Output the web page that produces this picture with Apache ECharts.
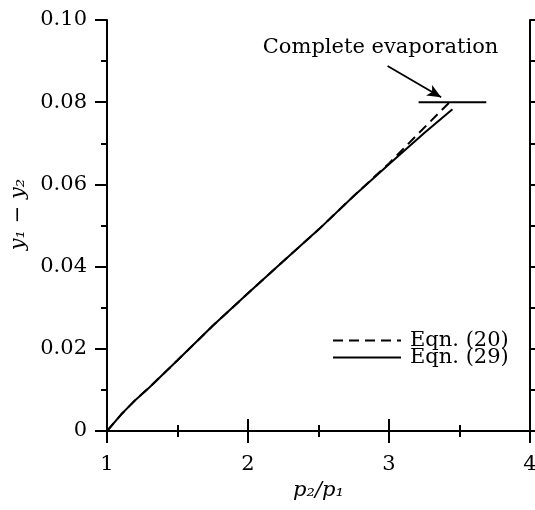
<!DOCTYPE html>
<html>
<head>
<meta charset="utf-8">
<script src="https://cdn.jsdelivr.net/npm/echarts@6/dist/echarts.min.js"></script>
<style>html,body{margin:0;padding:0;background:#fff;}#c{width:535px;height:510px;}</style>
</head>
<body>
<div id="c"></div>
<script>
// Data
const xTicks = [1, 2, 3, 4];
const yTicks = [0, 0.02, 0.04, 0.06, 0.08, 0.10];
const eqn29X = [1, 1.1, 1.2, 1.3, 1.5, 1.75, 2.0, 2.25, 2.5, 2.75, 3.0, 3.25, 3.45];
const eqn29Y = [0, 0.0040, 0.0075, 0.0106, 0.0172, 0.0256, 0.0335, 0.0413, 0.0490, 0.0572, 0.0649, 0.0725, 0.0783];
const eqn20X = [1, 1.1, 1.2, 1.3, 1.5, 1.75, 2.0, 2.25, 2.5, 2.75, 3.0, 3.2, 3.43];
const eqn20Y = [0, 0.0040, 0.0075, 0.0106, 0.0172, 0.0256, 0.0335, 0.0413, 0.0490, 0.0572, 0.0651, 0.0721, 0.0800];
const evapLineX = [3.21, 3.69];
const evapLineY = [0.080, 0.080];
const arrowFrom = [2.99, 0.0888];
const arrowTo = [3.37, 0.0812];
const annotationPos = [2.94, 0.0934];
const annotationText = 'Complete evaporation';
const seriesNames = ['Eqn. (20)', 'Eqn. (29)'];

const FONT = '"DejaVu Serif", "Liberation Serif", serif';
const FS = 21;
const zip = (xs, ys) => xs.map((x, i) => [x, ys[i]]);

const axisCommon = {
  type: 'value',
  axisLine: { show: true, lineStyle: { color: '#000', width: 2 } },
  axisTick: { show: true, inside: false, length: 12, lineStyle: { color: '#000', width: 2 } },
  minorTick: { show: true, splitNumber: 2, length: 6, lineStyle: { color: '#000', width: 2 } },
  splitLine: { show: false },
  minorSplitLine: { show: false }
};

const chart = echarts.init(document.getElementById('c'), null, { renderer: 'canvas' });
chart.setOption({
  animation: false,
  backgroundColor: '#fff',
  grid: { left: 107, right: 5, top: 20, bottom: 79, containLabel: false, outerBoundsMode: 'none' },
  xAxis: [
    Object.assign({}, axisCommon, {
      min: xTicks[0], max: xTicks[xTicks.length - 1], interval: 1, position: 'bottom',
      axisLabel: { show: true, margin: 23, color: '#000', fontFamily: FONT, fontSize: FS,
        formatter: v => String(v) },
      name: 'p\u2082/p\u2081', nameLocation: 'middle', nameGap: 41,
      nameTextStyle: { color: '#000', fontFamily: FONT, fontSize: FS, fontStyle: 'italic' }
    }),
    Object.assign({}, axisCommon, {
      min: xTicks[0], max: xTicks[xTicks.length - 1], interval: 1, position: 'top',
      axisLabel: { show: false }
    })
  ],
  yAxis: [
    Object.assign({}, axisCommon, {
      min: yTicks[0], max: yTicks[yTicks.length - 1], interval: 0.02, position: 'left',
      axisLabel: { show: true, margin: 20, color: '#000', fontFamily: FONT, fontSize: FS,
        formatter: v => (Math.abs(v) < 1e-9 ? '0' : v.toFixed(2)) },
      name: 'y\u2081 \u2212 y\u2082', nameLocation: 'middle', nameGap: 78, nameRotate: 90,
      nameTextStyle: { color: '#000', fontFamily: FONT, fontSize: FS, fontStyle: 'italic', padding: [0, 0, 0, 22] }
    }),
    Object.assign({}, axisCommon, {
      min: yTicks[0], max: yTicks[yTicks.length - 1], interval: 0.02, position: 'right',
      axisLabel: { show: false }
    })
  ],
  legend: {
    data: seriesNames,
    orient: 'vertical',
    left: 327,
    top: 325,
    itemWidth: 68,
    itemHeight: 12,
    itemGap: -4,
    itemStyle: { opacity: 0 },
    textStyle: { color: '#000', fontFamily: FONT, fontSize: FS, padding: [0, 0, 0, 4] },
    inactiveColor: '#000'
  },
  series: [
    {
      name: seriesNames[0], type: 'line', xAxisIndex: 0, yAxisIndex: 0,
      data: zip(eqn20X, eqn20Y), showSymbol: false, symbol: 'none', smooth: false,
      lineStyle: { color: '#000', width: 2, type: [10, 6] }, itemStyle: { color: '#000' },
      z: 3
    },
    {
      name: seriesNames[1], type: 'line', xAxisIndex: 0, yAxisIndex: 0,
      data: zip(eqn29X, eqn29Y), showSymbol: false, symbol: 'none', smooth: false,
      lineStyle: { color: '#000', width: 2, type: 'solid' }, itemStyle: { color: '#000' },
      z: 3
    },
    {
      name: 'evap', type: 'line', xAxisIndex: 0, yAxisIndex: 0,
      data: zip(evapLineX, evapLineY), showSymbol: false, symbol: 'none',
      lineStyle: { color: '#000', width: 2 }, z: 4,
      markLine: {
        silent: true, symbol: ['none', 'arrow'], symbolSize: [9, 14],
        lineStyle: { color: '#000', width: 1.8, type: 'solid' },
        label: { show: false },
        data: [[{ coord: arrowFrom }, { coord: arrowTo }]]
      }
    },
    {
      name: 'annot', type: 'scatter', xAxisIndex: 0, yAxisIndex: 0,
      data: [annotationPos], symbolSize: 0, silent: true,
      itemStyle: { color: '#000', opacity: 1 },
      label: { show: true, position: 'inside', formatter: annotationText,
        color: '#000', opacity: 1, textBorderWidth: 0, textBorderColor: 'transparent',
        fontFamily: FONT, fontSize: FS }
    }
  ]
});
</script>
</body>
</html>
